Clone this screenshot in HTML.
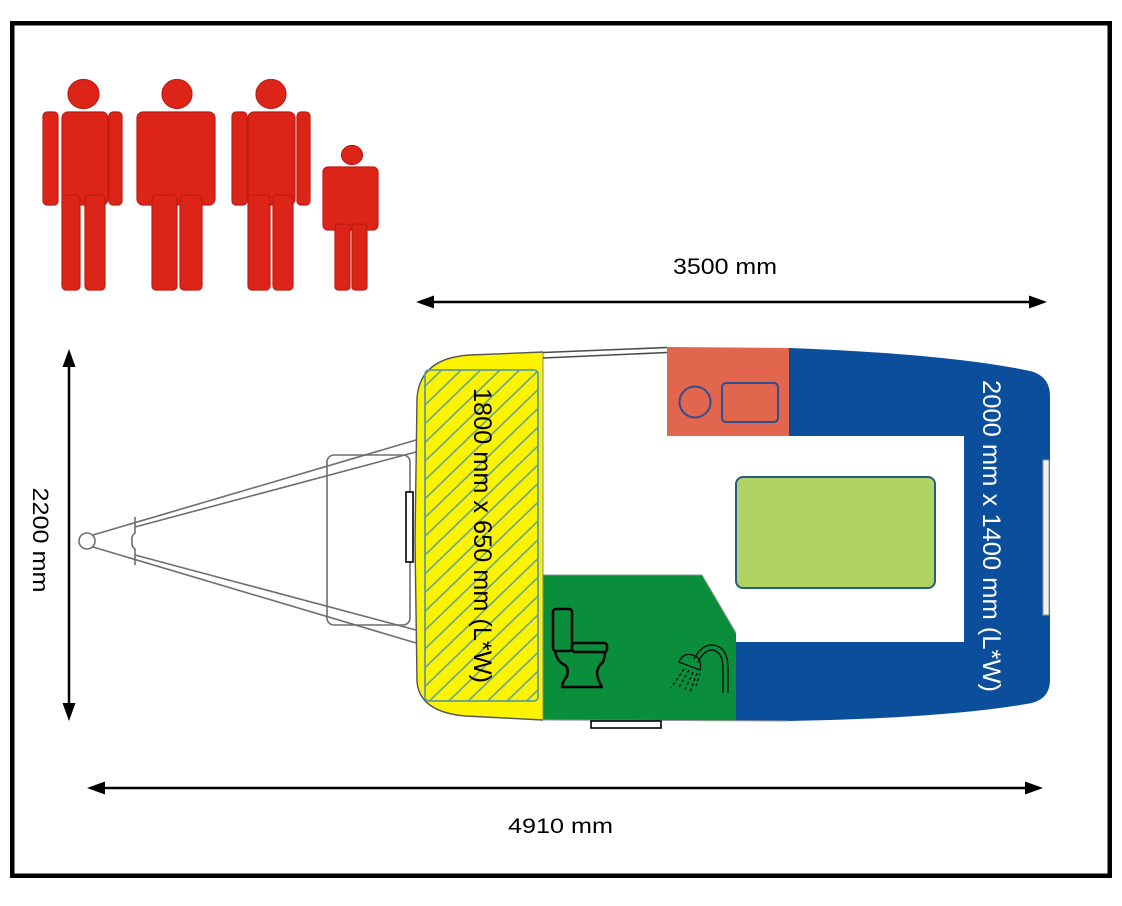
<!DOCTYPE html>
<html>
<head>
<meta charset="utf-8">
<style>
html,body{margin:0;padding:0;background:#fff;}
svg{display:block;}
text{font-family:"Liberation Sans",Arial,sans-serif;}
</style>
</head>
<body>
<svg width="1122" height="906" viewBox="0 0 1122 906" xmlns="http://www.w3.org/2000/svg">
<defs>
  <pattern id="hatch" patternUnits="userSpaceOnUse" width="40" height="13.5" patternTransform="rotate(-44)">
    <line x1="0" y1="6" x2="40" y2="6" stroke="#5e9e9a" stroke-width="1.6"/>
  </pattern>
  <clipPath id="body">
    <path d="M470,355 L543,352 L667,347 L789,348 Q950,354 1030,371 Q1050,376 1050,396 L1050,680 Q1050,698 1032,703 Q950,718 789,721 L543,720 L465,716 Q420,712 417,682 L415,540 L417,398 Q420,358 470,355 Z"/>
  </clipPath>
</defs>

<rect x="0" y="0" width="1122" height="906" fill="#fff"/>

<!-- outer frame -->
<rect x="12.25" y="23.25" width="1097.5" height="852.5" fill="none" stroke="#000" stroke-width="4.5"/>

<!-- people -->
<g fill="#dc2418" stroke="#c01c12" stroke-width="1.2">
  <!-- fig 1 -->
  <ellipse cx="83.5" cy="94" rx="15.5" ry="14.5"/>
  <rect x="43" y="112" width="15" height="93" rx="4"/>
  <rect x="62" y="112" width="46" height="93" rx="6"/>
  <rect x="109" y="112" width="13" height="93" rx="4"/>
  <rect x="62" y="195" width="18" height="95" rx="4"/>
  <rect x="85" y="195" width="20" height="95" rx="4"/>
  <!-- fig 2 -->
  <ellipse cx="177" cy="94" rx="15" ry="14.5"/>
  <rect x="137" y="112" width="78" height="93" rx="6"/>
  <rect x="152" y="195" width="25" height="95" rx="4"/>
  <rect x="180" y="195" width="22" height="95" rx="4"/>
  <!-- fig 3 -->
  <ellipse cx="271" cy="94" rx="15" ry="14.5"/>
  <rect x="232" y="112" width="15" height="93" rx="4"/>
  <rect x="248" y="112" width="47" height="93" rx="6"/>
  <rect x="297" y="112" width="13" height="93" rx="4"/>
  <rect x="248" y="195" width="22" height="95" rx="4"/>
  <rect x="273" y="195" width="20" height="95" rx="4"/>
  <!-- fig 4 child -->
  <ellipse cx="352" cy="155" rx="10.5" ry="9.5"/>
  <rect x="323" y="167" width="55" height="63" rx="5"/>
  <rect x="335" y="224" width="15" height="66" rx="3"/>
  <rect x="352" y="224" width="15" height="66" rx="3"/>
</g>

<!-- dimension arrows -->
<g stroke="#000" stroke-width="2.5">
  <line x1="430" y1="302" x2="1033" y2="302"/>
  <line x1="101" y1="788" x2="1029" y2="788"/>
  <line x1="69" y1="364" x2="69" y2="706"/>
</g>
<g fill="#000">
  <polygon points="416,302 434,295.5 434,308.5"/>
  <polygon points="1047,302 1029,295.5 1029,308.5"/>
  <polygon points="87,788 105,781.5 105,794.5"/>
  <polygon points="1043,788 1025,781.5 1025,794.5"/>
  <polygon points="69,349 62.5,367 75.5,367"/>
  <polygon points="69,721 62.5,703 75.5,703"/>
</g>

<text x="725" y="274" font-size="22" text-anchor="middle" textLength="104" lengthAdjust="spacingAndGlyphs" fill="#000">3500 mm</text>
<text x="560.5" y="833" font-size="21" text-anchor="middle" textLength="105" lengthAdjust="spacingAndGlyphs" fill="#000">4910 mm</text>
<text transform="translate(33,540) rotate(90)" x="0" y="0" font-size="22" text-anchor="middle" textLength="105" lengthAdjust="spacingAndGlyphs" fill="#000">2200 mm</text>

<!-- hitch / A-frame -->
<g fill="none" stroke="#6e6e6e" stroke-width="1.6">
  <circle cx="87" cy="541" r="8"/>
  <line x1="93" y1="535" x2="416" y2="440"/>
  <line x1="93" y1="547" x2="416" y2="643"/>
  <line x1="135" y1="527" x2="416" y2="452"/>
  <line x1="135" y1="555" x2="416" y2="630"/>
  <path d="M135,517 L135,533 Q131,536 132,541 Q131,546 135,549 L135,565"/>
  <rect x="327" y="455" width="83" height="170" rx="7"/>
</g>

<!-- body -->
<path d="M470,355 L543,352 L667,347 L789,348 Q950,354 1030,371 Q1050,376 1050,396 L1050,680 Q1050,698 1032,703 Q950,718 789,721 L543,720 L465,716 Q420,712 417,682 L415,540 L417,398 Q420,358 470,355 Z" fill="#fff"/>
<g clip-path="url(#body)">
  <rect x="400" y="330" width="143" height="410" fill="#fcf300"/>
  <rect x="667" y="330" width="122" height="106" fill="#e2654e"/>
  <path d="M789,340 L1060,340 L1060,740 L736,740 L736,642 L964,642 L964,436 L789,436 Z" fill="#0b4e9b"/>
  <path d="M543,575 L702,575 L736,633 L736,740 L543,740 Z" fill="#0a8e3c"/>
  <line x1="543" y1="575" x2="702" y2="575" stroke="#8a9a8a" stroke-width="1"/>
  <line x1="702" y1="575" x2="736" y2="633" stroke="#8a9a8a" stroke-width="1"/>
</g>
<path d="M470,355 L543,352 M543,720 L465,716 Q420,712 417,682 L415,540 L417,398 Q420,358 470,355" fill="none" stroke="#555" stroke-width="1.4"/>
<path d="M543,720 L789,721" fill="none" stroke="#999" stroke-width="1"/>
<line x1="543" y1="352" x2="543" y2="720" stroke="#888" stroke-width="1"/>

<!-- window strip top -->
<g stroke="#4a4a4a" stroke-width="1.6">
  <line x1="543" y1="352.5" x2="667" y2="347.5"/>
  <line x1="543" y1="358" x2="667" y2="352.5"/>
</g>

<!-- hatched bed -->
<rect x="425" y="370" width="113" height="331" rx="4" fill="url(#hatch)" stroke="#5e9e9a" stroke-width="1.8"/>
<text transform="translate(482,535.5) rotate(90)" x="0" y="0" font-size="25" text-anchor="middle" dominant-baseline="central" textLength="295" lengthAdjust="spacingAndGlyphs" fill="#000">1800 mm x 650 mm (L*W)</text>

<!-- kitchen items -->
<circle cx="695" cy="402" r="15.5" fill="none" stroke="#2d4f8f" stroke-width="2"/>
<rect x="722" y="383" width="56" height="39" rx="4" fill="none" stroke="#2d4f8f" stroke-width="2"/>

<!-- table -->
<rect x="736" y="477" width="199" height="111" rx="7" fill="#afd464" stroke="#2a5b86" stroke-width="2"/>

<!-- right label -->
<text transform="translate(991,536) rotate(90)" x="0" y="0" font-size="25" text-anchor="middle" dominant-baseline="central" textLength="312" lengthAdjust="spacingAndGlyphs" fill="#fff">2000 mm x 1400 mm (L*W)</text>

<!-- doors / windows -->
<rect x="406" y="492" width="7" height="70" fill="#fff" stroke="#000" stroke-width="1.6"/>
<rect x="591" y="721" width="70" height="7" fill="#fff" stroke="#000" stroke-width="1.6"/>
<rect x="1043" y="460" width="6" height="155" fill="#f2f2f2" stroke="#999" stroke-width="1"/>

<!-- toilet -->
<g fill="none" stroke="#000" stroke-width="2.5" stroke-linejoin="round">
  <rect x="553" y="609" width="19" height="42" rx="3"/>
  <rect x="572" y="643" width="35" height="9" rx="3"/>
  <path d="M555,651 Q557,662 565,665 Q569,668 567,676 Q562,683 562,687 L602,687 Q597,679 597,672 Q598,666 603,662 Q605,657 605,652"/>
</g>

<!-- shower -->
<g fill="none" stroke="#000" stroke-width="1.2">
  <path d="M694,659 Q701,645 712,645 Q728,646 728,668 L728,693"/>
  <path d="M698,662 Q704,650 712,650 Q723,651 723,669 L723,693"/>
  <path d="M679,662 Q684,650 697,657 Q702,662 700,670 Z"/>
  <g stroke-dasharray="3,2.5">
    <line x1="684" y1="669" x2="671" y2="688"/>
    <line x1="689" y1="670" x2="678" y2="689"/>
    <line x1="693" y1="672" x2="684" y2="692"/>
    <line x1="697" y1="673" x2="690" y2="692"/>
    <line x1="700" y1="673" x2="696" y2="686"/>
  </g>
</g>
</svg>
</body>
</html>
